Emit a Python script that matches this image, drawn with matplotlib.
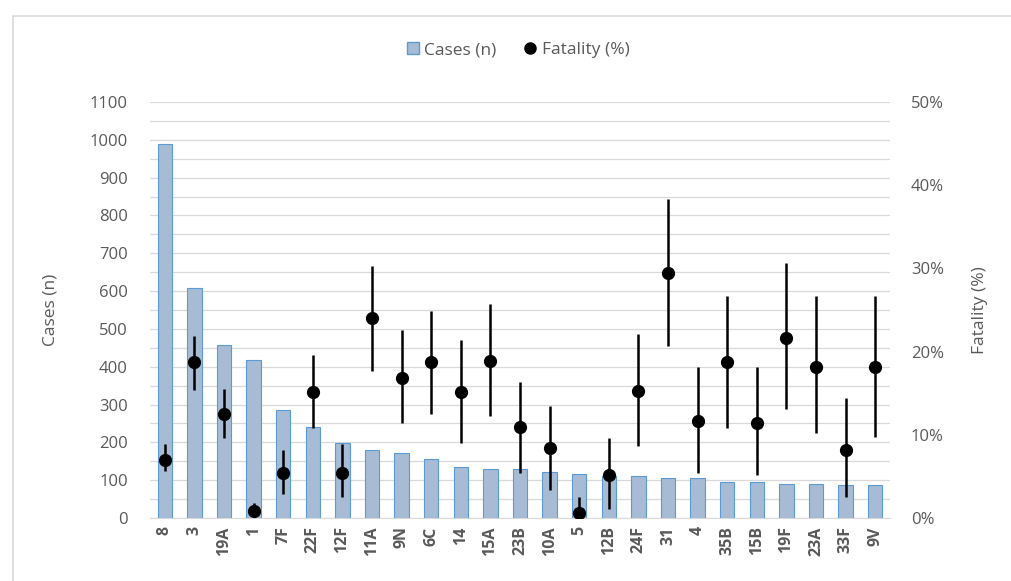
import matplotlib
matplotlib.use("Agg")
import matplotlib.pyplot as plt
from matplotlib.lines import Line2D
from matplotlib.patches import Patch

plt.rcParams['font.family'] = ['Open Sans', 'DejaVu Sans']

serotypes = ["8", "3", "19A", "1", "7F", "22F", "12F", "11A", "9N", "6C", "14", "15A", "23B",
             "10A", "5", "12B", "24F", "31", "4", "35B", "15B", "19F", "23A", "33F", "9V"]
cases = [990, 607, 457, 417, 286, 241, 197, 181, 171, 156, 136, 130, 130,
         121, 116, 110, 111, 106, 106, 96, 96, 90, 90, 86, 86]
fatality = [7.0, 18.7, 12.5, 0.8, 5.4, 15.1, 5.4, 24.0, 16.8, 18.7, 15.1, 18.9, 10.9,
            8.4, 0.6, 5.2, 15.3, 29.4, 11.6, 18.7, 11.4, 21.6, 18.2, 8.2, 18.2]
fat_hi = [8.9, 21.9, 15.5, 1.8, 8.2, 19.6, 8.9, 30.3, 22.6, 24.9, 21.4, 25.7, 16.4,
          13.5, 2.5, 9.6, 22.1, 38.4, 18.1, 26.7, 18.1, 30.6, 26.7, 14.4, 26.7]
fat_lo = [5.7, 15.4, 9.6, 0.0, 2.9, 10.8, 2.5, 17.7, 11.4, 12.5, 9.05, 12.3, 5.4,
          3.4, 0.0, 1.1, 8.6, 20.7, 5.4, 10.8, 5.2, 13.1, 10.2, 2.5, 9.7]

grey = '#595959'
fig = plt.figure(figsize=(10.11, 5.81), dpi=100)
# chart area border
fig.patches.append(plt.Rectangle((13/1011, -0.1), 1.2, 1 - 16/581 + 0.1, transform=fig.transFigure,
                                 fill=False, edgecolor='#d9d9d9', linewidth=1.2))

ax = fig.add_axes([150/1011, 1 - 518/581, 740/1011, 416/581])
x = list(range(len(serotypes)))
ax.bar(x, cases, width=0.48, color='#a7bbd4', edgecolor='#5b9bd5', linewidth=0.8, zorder=2)
ax.set_xlim(-0.5, len(serotypes) - 0.5)
ax.set_ylim(0, 1100)
ax.set_yticks(range(0, 1101, 100))
ax.set_yticks(range(0, 1101, 50), minor=True)
ax.grid(axis='y', which='both', color='#d9d9d9', linewidth=0.9, zorder=0)
ax.set_axisbelow(True)
ax.set_xticks(x)
ax.set_xticklabels(serotypes, rotation=90, fontsize=11.5, color=grey, fontweight='bold')
ax.tick_params(axis='y', labelsize=12, labelcolor=grey, length=0, pad=16)
ax.tick_params(axis='y', which='minor', length=0)
ax.tick_params(axis='x', length=0, pad=6)
for s in ['top', 'right', 'left']:
    ax.spines[s].set_visible(False)
ax.spines['bottom'].set_color('#d9d9d9')
ax.set_ylabel('Cases (n)', fontsize=12.5, color=grey, labelpad=22)

ax2 = ax.twinx()
ax2.set_ylim(0, 50)
yerr = [[f - l for f, l in zip(fatality, fat_lo)], [h - f for f, h in zip(fatality, fat_hi)]]
ax2.errorbar(x, fatality, yerr=yerr, fmt='o', color='black', markersize=8.5,
             elinewidth=1.8, capsize=0, zorder=3)
ax2.set_yticks(range(0, 51, 10))
ax2.set_yticklabels([f'{v}%' for v in range(0, 51, 10)])
ax2.tick_params(axis='y', labelsize=12, labelcolor=grey, length=0, pad=15)
for s in ['top', 'right', 'left', 'bottom']:
    ax2.spines[s].set_visible(False)
ax2.set_ylabel('Fatality (%)', fontsize=12.5, color=grey, labelpad=20, rotation=90)

handles = [Patch(facecolor='#a7bbd4', edgecolor='#5b9bd5', label='Cases (n)'),
           Line2D([], [], marker='o', color='black', linestyle='none', markersize=8, label='Fatality (%)')]
fig.legend(handles=handles, loc='center', bbox_to_anchor=(518/1011, 1 - 50/581), ncol=2,
           frameon=False, fontsize=12.5, labelcolor=grey, handlelength=0.7, handletextpad=0.3,
           columnspacing=1.6)

fig.savefig('out.png', dpi=100)
